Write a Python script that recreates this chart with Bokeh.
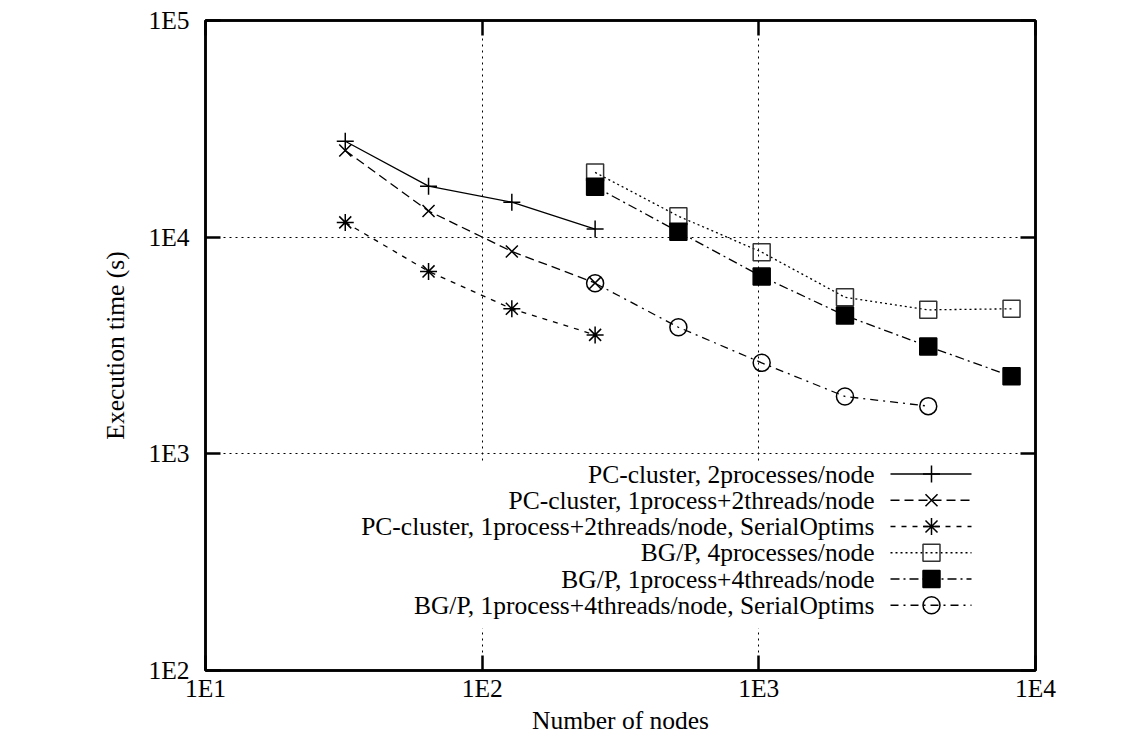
from bokeh.plotting import figure
from bokeh.models import Range1d, FixedTicker, LogAxis, CustomJSTickFormatter
from bokeh.core.properties import value
from bokeh.embed import file_html
from bokeh.resources import INLINE

# ---------------- data ----------------
nodes_pc = [32, 64, 128, 256]
pc_2proc = [27700, 17200, 14500, 10900]
pc_1p2t = [25100, 13200, 8590, 6150]
pc_1p2t_opt = [11700, 6950, 4670, 3540]

nodes_bgp = [256, 512, 1024, 2048, 4096, 8192]
bgp_4proc = [19900, 12500, 8530, 5280, 4620, 4670]
bgp_1p4t = [17100, 10600, 6580, 4350, 3130, 2280]

nodes_bgp_opt = [256, 512, 1024, 2048, 4096]
bgp_1p4t_opt = [6130, 3840, 2630, 1840, 1660]

series_labels = [
    "PC-cluster, 2processes/node",
    "PC-cluster, 1process+2threads/node",
    "PC-cluster, 1process+2threads/node, SerialOptims",
    "BG/P, 4processes/node",
    "BG/P, 1process+4threads/node",
    "BG/P, 1process+4threads/node, SerialOptims",
]
x_ticks = [10, 100, 1000, 10000]
y_ticks = [100, 1000, 10000, 100000]

FONT = "Liberation Serif"
FS = "25.5px"

# frame geometry (canvas px)
W, H = 1127, 740
FL, FR, FT, FB = 205, 1035, 20, 670

p = figure(width=W, height=H, x_axis_type="log", y_axis_type="log",
           x_range=Range1d(10, 1e4), y_range=Range1d(100, 1e5),
           output_backend="svg", toolbar_location=None,
           min_border_left=FL, min_border_right=W - FR,
           min_border_top=FT, min_border_bottom=H - FB)
p.background_fill_color = "white"
p.border_fill_color = "white"
p.outline_line_color = "black"
p.outline_line_width = 2.5

fmt = CustomJSTickFormatter(code="return '1E' + Math.round(Math.log10(tick));")

def style_axis(ax, ticks, labels=True):
    ax.ticker = FixedTicker(ticks=ticks, minor_ticks=[])
    ax.axis_line_color = "black"
    ax.axis_line_width = 2.5
    ax.major_tick_line_color = "black"
    ax.major_tick_line_width = 2.5
    ax.major_tick_in = 15
    ax.major_tick_out = 0
    ax.minor_tick_line_color = None
    if labels:
        ax.formatter = fmt
        ax.major_label_text_font = FONT
        ax.major_label_text_font_size = FS
        ax.major_label_text_color = "black"
        ax.axis_label_text_font = FONT
        ax.axis_label_text_font_size = FS
        ax.axis_label_text_font_style = "normal"
        ax.axis_label_text_color = "black"
    else:
        ax.major_label_text_font_size = "1px"
        ax.major_label_text_color = None
        ax.major_label_standoff = 0

xa = p.xaxis[0]
ya = p.yaxis[0]
style_axis(xa, x_ticks)
style_axis(ya, y_ticks)
xa.axis_label = "Number of nodes"
ya.axis_label = "Execution time (s)"
xa.major_label_standoff = 3
xa.axis_label_standoff = 0
ya.major_label_standoff = 16
ya.axis_label_standoff = 15

top_ax = LogAxis()
style_axis(top_ax, x_ticks, labels=False)
p.add_layout(top_ax, "above")
right_ax = LogAxis()
style_axis(right_ax, y_ticks, labels=False)
p.add_layout(right_ax, "right")

for g, t in ((p.xgrid[0], x_ticks), (p.ygrid[0], y_ticks)):
    g.ticker = FixedTicker(ticks=t, minor_ticks=[])
    g.grid_line_color = "black"
    g.grid_line_width = 1
    g.grid_line_dash = "2 4"

# ---------------- series ----------------
LW = 1.3
MS = 17
styles = [
    dict(dash="solid", marker="cross", fill=None, lc="black"),
    dict(dash="9 5", marker="x", fill=None, lc="black"),
    dict(dash="5 6", marker="asterisk", fill=None, lc="black"),
    dict(dash="2 3", marker="square", fill=None, lc="#333333"),
    dict(dash="9 4 2 4", marker="square", fill="black", lc="black"),
    dict(dash="8 5 2 5", marker="circle", fill=None, lc="black"),
]
data = [
    (nodes_pc, pc_2proc),
    (nodes_pc, pc_1p2t),
    (nodes_pc, pc_1p2t_opt),
    (nodes_bgp, bgp_4proc),
    (nodes_bgp, bgp_1p4t),
    (nodes_bgp_opt, bgp_1p4t_opt),
]

# ---------------- legend (screen-positioned via log mapping) ----------------
def sx(px):
    return 10 ** (1 + 3 * (px - FL) / (FR - FL))

def sy(py):
    return 10 ** (2 + 3 * (FB - py) / (FB - FT))

rows = [473.5 + i * 26.25 for i in range(6)]
# white legend box hiding the grid
p.quad(left=[sx(308)], right=[sx(993)], top=[sy(462)], bottom=[sy(628)],
       fill_color="white", line_color=None)

for (xs, ys), st in zip(data, styles):
    p.line(xs, ys, line_color="black", line_width=LW, line_dash=st["dash"])
    p.scatter(xs, ys, marker=st["marker"], size=MS, line_color=st["lc"],
              line_width=1.5, fill_color=st["fill"])

p.text(x=[sx(874)] * 6, y=[sy(r) for r in rows], text=series_labels,
       text_align="right", text_baseline="middle",
       text_font=value(FONT), text_font_size=FS, text_color="black")

for r, st in zip(rows, styles):
    p.line([sx(890), sx(971)], [sy(r), sy(r)], line_color="black",
           line_width=LW, line_dash=st["dash"])
    p.scatter([sx(931)], [sy(r)], marker=st["marker"], size=MS,
              line_color=st["lc"], line_width=1.5, fill_color=st["fill"])

open("out.html", "w").write(file_html(p, INLINE))
